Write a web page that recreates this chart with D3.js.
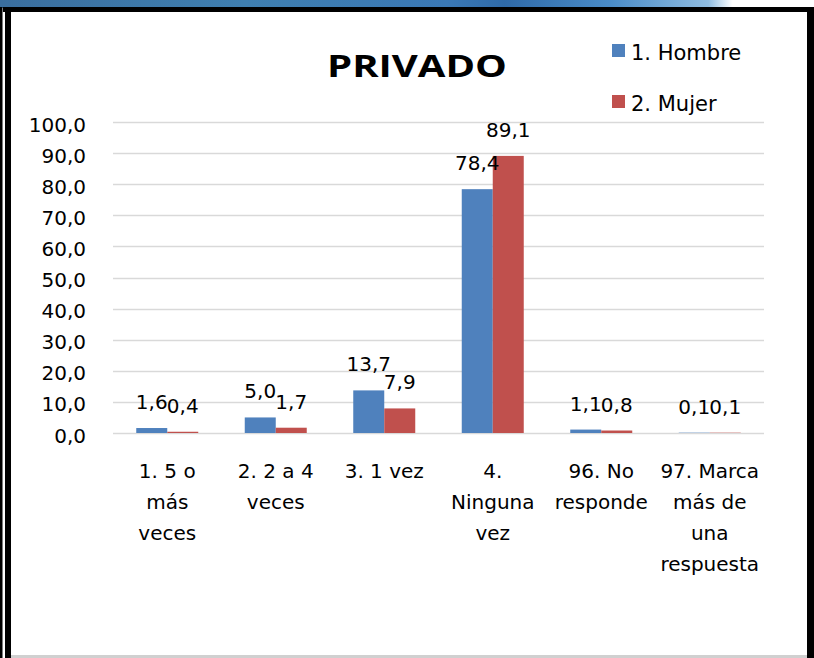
<!DOCTYPE html>
<html>
<head>
<meta charset="utf-8">
<script src="https://cdn.jsdelivr.net/npm/d3@7"></script>
<style>
  html, body { margin: 0; padding: 0; background: #fff; }
  svg { display: block; }
  text { font-family: "DejaVu Sans", sans-serif; fill: #000; }
</style>
</head>
<body>
<svg id="chart" width="814" height="658"></svg>
<script>
// Category labels, one array of lines per category
const categories = [
  ["1. 5 o", "más", "veces"],
  ["2. 2 a 4", "veces"],
  ["3. 1 vez"],
  ["4.", "Ninguna", "vez"],
  ["96. No", "responde"],
  ["97. Marca", "más de", "una", "respuesta"]
];
const seriesNames = ["1. Hombre", "2. Mujer"];
const hombre = [1.6, 5.0, 13.7, 78.4, 1.1, 0.1];
const mujer = [0.4, 1.7, 7.9, 89.1, 0.8, 0.1];
const yTicks = [0, 10, 20, 30, 40, 50, 60, 70, 80, 90, 100];
const title = "PRIVADO";

const colors = ["#4F81BD", "#C0504D"];
const series = [hombre, mujer];
const fmt = v => d3.format(".1f")(v).replace(".", ",");

const svg = d3.select("#chart");

// Slide frame: blue band on top, black borders
const defs = svg.append("defs");
const grad = defs.append("linearGradient").attr("id", "band").attr("x1", 0).attr("x2", 1);
[[0, "#3a6e9e"], [0.3, "#3f7fb0"], [0.55, "#3a78b5"], [0.62, "#2f6aa8"], [0.75, "#4a8cc8"], [0.87, "#8fbce0"], [0.9, "#ffffff"], [1, "#ffffff"]]
  .forEach(([o, c]) => grad.append("stop").attr("offset", o).attr("stop-color", c));
svg.append("rect").attr("x", 0).attr("y", 0).attr("width", 814).attr("height", 8).attr("fill", "url(#band)");
svg.append("rect").attr("x", 3).attr("y", 7).attr("width", 811).attr("height", 5).attr("fill", "#000");
svg.append("rect").attr("x", 0).attr("y", 7).attr("width", 2.5).attr("height", 651).attr("fill", "#000");
svg.append("rect").attr("x", 5).attr("y", 7).attr("width", 6).attr("height", 651).attr("fill", "#000");
svg.append("rect").attr("x", 807).attr("y", 7).attr("width", 7).attr("height", 651).attr("fill", "#000");
svg.append("rect").attr("x", 11).attr("y", 655).attr("width", 796).attr("height", 3).attr("fill", "#d0d0d0");

// Plot area
const plot = { left: 113, right: 764, top: 122, bottom: 433 };

const x = d3.scaleBand().domain(d3.range(categories.length))
  .range([plot.left, plot.right]).paddingInner(0).paddingOuter(0);
const xInner = d3.scaleBand().domain(d3.range(series.length))
  .range([0, x.bandwidth()]).paddingInner(0).paddingOuter(0.75);
const y = d3.scaleLinear().domain([0, 100]).range([plot.bottom, plot.top]);

// Gridlines
svg.append("g").selectAll("line").data(yTicks).join("line")
  .attr("x1", plot.left).attr("x2", plot.right)
  .attr("y1", d => Math.round(y(d)) + 0.5).attr("y2", d => Math.round(y(d)) + 0.5)
  .attr("stroke", "#d9d9d9").attr("stroke-width", 1.5);

// Y axis labels
const yAxis = d3.axisLeft(y).tickValues(yTicks).tickFormat(fmt).tickSize(0).tickPadding(0);
const gy = svg.append("g").attr("transform", `translate(86,0)`).call(yAxis);
gy.select(".domain").remove();
gy.selectAll("text")
  .attr("font-family", "DejaVu Sans").attr("font-size", 20).attr("fill", "#000")
  .attr("dy", null).attr("y", 9);

// Bars
const groups = svg.append("g").selectAll("g").data(series).join("g")
  .attr("fill", (d, i) => colors[i]);
groups.each(function (vals, si) {
  d3.select(this).selectAll("rect").data(vals).join("rect")
    .attr("x", (d, ci) => x(ci) + xInner(si))
    .attr("width", xInner.bandwidth())
    .attr("y", d => y(d))
    .attr("height", d => plot.bottom - y(d));
});

// Value labels
series.forEach((vals, si) => {
  svg.append("g").selectAll("text").data(vals).join("text")
    .attr("x", (d, ci) => x(ci) + xInner(si) + xInner.bandwidth() / 2)
    .attr("y", d => y(d) - 19)
    .attr("text-anchor", "middle")
    .attr("font-size", 20)
    .text(fmt);
});

// Category labels
const gx = svg.append("g");
categories.forEach((lines, ci) => {
  const t = gx.append("text")
    .attr("x", x(ci) + x.bandwidth() / 2)
    .attr("y", 478)
    .attr("text-anchor", "middle")
    .attr("font-size", 20);
  lines.forEach((ln, li) => {
    t.append("tspan").attr("x", x(ci) + x.bandwidth() / 2).attr("y", 478 + li * 31).text(ln);
  });
});

// Title
svg.append("text")
  .attr("x", 417).attr("y", 77)
  .attr("text-anchor", "middle")
  .style("font-family", "'Open Sans', sans-serif")
  .attr("font-size", 31).attr("font-weight", "bold")
  .attr("textLength", 180).attr("lengthAdjust", "spacingAndGlyphs")
  .text(title);

// Legend
const legend = svg.append("g").selectAll("g").data(seriesNames).join("g")
  .attr("transform", (d, i) => `translate(612,${44 + i * 51})`);
legend.append("rect").attr("width", 13).attr("height", 13).attr("fill", (d, i) => colors[i]);
legend.append("text").attr("x", 19).attr("y", 16).attr("font-size", 21).text(d => d);
</script>
</body>
</html>
